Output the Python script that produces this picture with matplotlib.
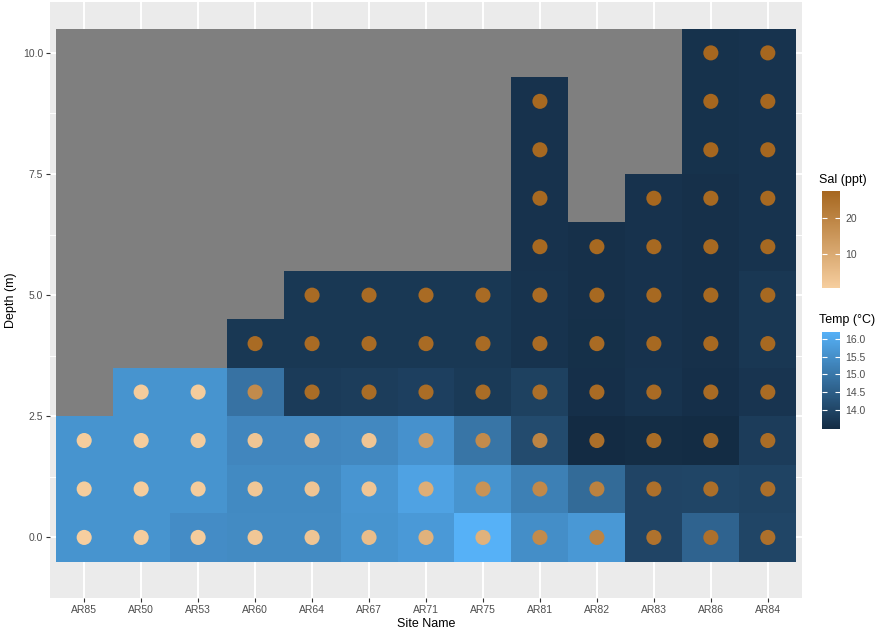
import numpy as np
import matplotlib
matplotlib.use("Agg")
import matplotlib.pyplot as plt
from matplotlib.colors import LinearSegmentedColormap, Normalize

plt.rcParams['font.family'] = ['Liberation Sans', 'DejaVu Sans']

sites = ["AR85", "AR50", "AR53", "AR60", "AR64", "AR67", "AR71",
         "AR75", "AR81", "AR82", "AR83", "AR86", "AR84"]
depths = list(range(11))

# Temperature (°C) per site, from depth 0 downward
t_AR85 = [15.59, 15.59, 15.59]
t_AR50 = [15.59, 15.59, 15.59, 15.59]
t_AR53 = [15.45, 15.59, 15.59, 15.59]
t_AR60 = [15.41, 15.39, 15.33, 14.92, 13.72]
t_AR64 = [15.41, 15.39, 15.33, 13.80, 13.72, 13.72]
t_AR67 = [15.60, 15.62, 15.36, 13.83, 13.72, 13.72]
t_AR71 = [15.70, 15.90, 15.55, 13.88, 13.72, 13.72]
t_AR75 = [16.20, 15.60, 14.96, 13.76, 13.72, 13.72]
t_AR81 = [15.48, 15.19, 14.12, 13.90, 13.63, 13.63, 13.62, 13.62, 13.62, 13.62]
t_AR82 = [15.68, 14.76, 13.46, 13.55, 13.56, 13.57, 13.57]
t_AR83 = [13.98, 13.98, 13.50, 13.64, 13.62, 13.62, 13.62, 13.62]
t_AR86 = [14.61, 14.00, 13.48, 13.55, 13.57, 13.57, 13.57, 13.57, 13.60, 13.60, 13.60]
t_AR84 = [14.00, 13.96, 13.82, 13.66, 13.70, 13.70, 13.63, 13.63, 13.63, 13.63, 13.63]

# Salinity (ppt) per site, from depth 0 downward
s_AR85 = [0.6, 1.0, 1.0]
s_AR50 = [1.0, 1.0, 1.0, 1.2]
s_AR53 = [1.2, 1.2, 1.2, 1.2]
s_AR60 = [2.5, 2.5, 3.0, 18.0, 26.5]
s_AR64 = [3.0, 3.0, 3.5, 26.0, 26.5, 26.5]
s_AR67 = [5.0, 3.0, 3.0, 26.0, 26.5, 26.5]
s_AR71 = [8.0, 9.0, 13.0, 26.0, 26.5, 26.5]
s_AR75 = [8.0, 16.0, 18.0, 26.0, 26.5, 26.5]
s_AR81 = [18.0, 18.5, 20.0, 25.5, 26.5, 26.5, 27.0, 27.0, 27.0, 27.0]
s_AR82 = [20.0, 20.5, 25.5, 26.5, 26.5, 27.0, 27.0]
s_AR83 = [24.5, 25.0, 26.0, 26.5, 27.0, 27.0, 27.0, 27.5]
s_AR86 = [25.0, 25.5, 26.0, 26.5, 27.0, 27.0, 27.0, 27.0, 27.5, 27.5, 27.5]
s_AR84 = [25.0, 25.5, 26.0, 26.5, 27.0, 27.0, 27.0, 27.0, 27.5, 27.5, 27.5]

temps = [t_AR85, t_AR50, t_AR53, t_AR60, t_AR64, t_AR67, t_AR71,
         t_AR75, t_AR81, t_AR82, t_AR83, t_AR86, t_AR84]
sals = [s_AR85, s_AR50, s_AR53, s_AR60, s_AR64, s_AR67, s_AR71,
        s_AR75, s_AR81, s_AR82, s_AR83, s_AR86, s_AR84]

n_sites = len(sites)
n_depths = len(depths)
temp_grid = np.full((n_depths, n_sites), np.nan)
px, py, pc = [], [], []
for i, (tl, sl) in enumerate(zip(temps, sals)):
    for d, (tv, sv) in enumerate(zip(tl, sl)):
        temp_grid[d, i] = tv
        px.append(i + 1)
        py.append(depths[d])
        pc.append(sv)

temp_cmap = LinearSegmentedColormap.from_list("temp", ["#132B43", "#56B1F7"])
temp_cmap.set_bad("#7F7F7F")
sal_cmap = LinearSegmentedColormap.from_list("sal", ["#F6CE9F", "#A6671F"])

tnorm = Normalize(np.nanmin(temp_grid), np.nanmax(temp_grid))
snorm = Normalize(min(pc), max(pc))

W, H = 884, 634
fig = plt.figure(figsize=(W / 100, H / 100), dpi=100)
ax = fig.add_axes([50 / W, (H - 598) / H, 752 / W, 596 / H])
ax.set_facecolor("#EBEBEB")
for s in ax.spines.values():
    s.set_visible(False)

x_edges = np.arange(n_sites + 1) + 0.5
y_edges = np.arange(n_depths + 1) - 0.5
ax.pcolormesh(x_edges, y_edges, np.ma.masked_invalid(temp_grid),
              cmap=temp_cmap, norm=tnorm, zorder=2)
ax.scatter(px, py, c=pc, cmap=sal_cmap, norm=snorm, s=118,
           linewidths=0, zorder=3)

ax.set_xlim(0.4, n_sites + 0.6)
ax.set_ylim(-1.05, 11.05)
ax.set_xticks(np.arange(1, n_sites + 1))
ax.set_xticklabels(sites)
ax.set_yticks([0, 2.5, 5, 7.5, 10])
ax.set_yticklabels(["0.0", "2.5", "5.0", "7.5", "10.0"])
ax.set_yticks([-1.25, 1.25, 3.75, 6.25, 8.75], minor=True)
ax.tick_params(axis="both", which="major", length=3, width=0.8,
               color="#333333", labelcolor="#4D4D4D", labelsize=7.5, pad=2)
ax.tick_params(axis="y", which="minor", length=0)
ax.grid(True, which="major", color="white", linewidth=1.4, zorder=0)
ax.grid(True, which="minor", axis="y", color="white", linewidth=0.7, zorder=0)
ax.set_axisbelow(True)
ax.set_xlabel("Site Name", fontsize=9, color="black", labelpad=2)
ax.set_ylabel("Depth (m)", fontsize=9, color="black", labelpad=4)

# Legends (colour bars)
def colbar(mappable_cmap, norm, top_px, ticks, labels, title, title_px):
    cax = fig.add_axes([822 / W, (H - top_px - 97) / H, 18 / W, 97 / H])
    sm = plt.cm.ScalarMappable(norm=norm, cmap=mappable_cmap)
    cb = fig.colorbar(sm, cax=cax)
    cb.outline.set_visible(False)
    cb.set_ticks(ticks)
    cb.set_ticklabels(labels)
    cax.yaxis.set_ticks_position("both")
    cax.tick_params(axis="y", direction="in", length=3.5, width=0.8,
                    color="white", labelcolor="#4D4D4D", labelsize=7.5,
                    labelright=True, labelleft=False, pad=4)
    fig.text(819 / W, 1 - title_px / H, title, fontsize=9, va="center",
             ha="left", color="black")

colbar(sal_cmap, snorm, 191, [10, 20], ["10", "20"], "Sal (ppt)", 180)
colbar(temp_cmap, tnorm, 332, [14.0, 14.5, 15.0, 15.5, 16.0],
       ["14.0", "14.5", "15.0", "15.5", "16.0"], "Temp (°C)", 320)

fig.savefig("out.png", dpi=100)
